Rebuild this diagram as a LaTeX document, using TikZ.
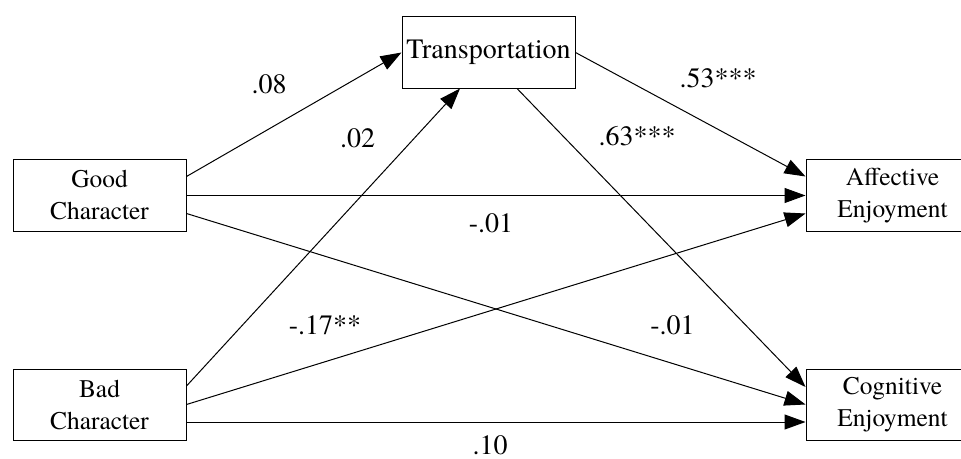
\documentclass[tikz,border=0pt]{standalone}
\usepackage{fontspec}
\setmainfont{texgyretermes}[Extension=.otf,UprightFont=*-regular,BoldFont=*-bold]
\usetikzlibrary{arrows.meta}

\tikzset{
	var/.style={draw,minimum width=86.5pt,minimum height=35.5pt,inner sep=0pt,
		align=center,font=\rmfamily\fontsize{12.7}{16}\selectfont},
	coef/.style={inner sep=0pt,font=\rmfamily\fontsize{14}{16}\selectfont},
	link/.style={-{Triangle[length=10.5pt,width=7.5pt]}}
}

\begin{document}
\begin{tikzpicture}[x=0.5pt,y=-0.5pt,
	line width=0.5pt,line join=miter]
	
	\useasboundingbox (0,0) rectangle (961,459);
	
	\matrix[inner sep=0pt,anchor=north west] at (12,16)
	{
		&[107.5pt] \node [var,font=\rmfamily\fontsize{14}{16}\selectfont] (trans) {Transportation}; &[115pt] \\[35.5pt]
		\node [var] (good) {Good\\Character}; & & \node [var] (affect) {Affective\\Enjoyment}; \\[68.5pt]
		\node [var] (bad) {Bad\\Character}; & & \node [var] (cognit) {Cognitive\\Enjoyment}; \\
	};
	
	\path[link]
	
	% into Transportation
	([yshift=9.5pt]good.east) edge (trans.west)
	([yshift=9.25pt]bad.east) edge ([xshift=-14.25pt]trans.south)
	
	% out of Transportation
	(trans.east) edge ([yshift=9.5pt]affect.west)
	([xshift=14.25pt]trans.south) edge ([yshift=8.75pt]cognit.west)
	
	% Good Character
	(good.east) edge (affect.west)
	([yshift=-9pt]good.east) edge (cognit.west)
	
	% Bad Character
	(bad.east) edge ([yshift=-9pt]affect.west)
	([yshift=-8.75pt]bad.east) edge ([yshift=-8.75pt]cognit.west);
	
	% Coefficients
	\node[coef] (g2t) at (269,84) {.08};
	\node[coef] (b2t) at (357.5,138) {.02};
	\node[coef] (t2a) at (718,78) {.53***};
	\node[coef] (t2c) at (637,136) {.63***};
	\node[coef] (g2a) at (491,223) {-.01};
	\node[coef] (b2a) at (325,325) {-.17**};
	\node[coef] (g2c) at (672.5,325) {-.01};
	\node[coef] (b2c) at (490,445) {.10};
\end{tikzpicture}
\end{document}
